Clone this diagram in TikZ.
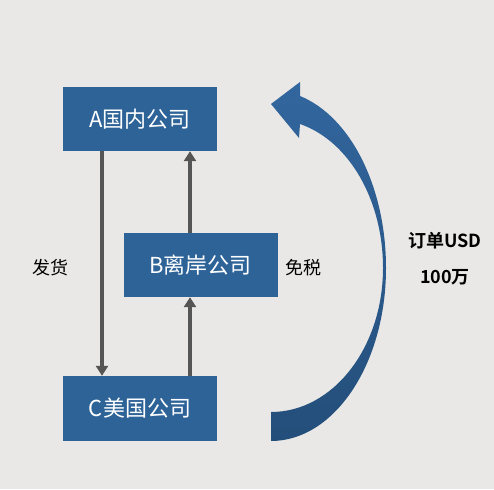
\documentclass[tikz,border=0pt]{standalone}
\usepackage{fontspec}
\setmainfont{Noto Sans CJK SC}[BoldFont=Noto Sans CJK SC Bold]
\usetikzlibrary{arrows.meta}
\definecolor{bg}{RGB}{233,232,230}
\definecolor{boxblue}{RGB}{46,99,152}
\definecolor{arrtop}{RGB}{50,102,158}
\definecolor{arrbot}{RGB}{36,78,122}
\definecolor{flowgray}{RGB}{85,85,85}
\tikzset{
  company/.style={fill=boxblue, text=white, minimum width=154pt, minimum height=64pt,
    inner sep=0pt, font=\fontsize{22}{25}\selectfont},
  flow/.style={draw=flowgray, line width=3.2pt, -{Triangle[width=12pt,length=10pt]}},
  label/.style={text=black, inner sep=0pt, font=\fontsize{18}{21}\selectfont},
  boldlabel/.style={text=black, inner sep=0pt, font=\fontsize{18}{21}\selectfont\bfseries}
}
\begin{document}
\begin{tikzpicture}[x=1pt,y=-1pt]
\fill[bg] (0,0) rectangle (494,489);
\useasboundingbox (0,0) rectangle (494,489);

\node[company] (A) at (140,119) {A国内公司};
\node[company] (B) at (200.5,265) {B离岸公司};
\node[company, minimum height=65pt] (C) at (140,408.5) {C美国公司};

\draw[flow] (A.south -| 102,0) -- (C.north -| 102,0);
\draw[flow] (C.north -| 190,0) -- (B.south -| 190,0);
\draw[flow] (B.north -| 190,0) -- (A.south -| 190,0);

\node[label] (ship) at (50,268) {发货};
\node[label] (tax) at (303,268) {免税};
\node[boldlabel] (ord1) at (445,241) {订单USD};
\node[boldlabel] (ord2) at (445,277) {100万};

% curved arrow
\shade[top color=arrtop, bottom color=arrbot]
  (271,412) .. controls (333,412) and (383,347.5) .. (383,268)
  .. controls (383,200) and (349,141) .. (300,124)
  -- (299,138) -- (271,104) -- (300,82) -- (300,96)
  .. controls (350.5,116.5) and (386,187) .. (386,268)
  .. controls (386,363.5) and (334.5,441) .. (271,441) -- cycle;
\end{tikzpicture}
\end{document}
